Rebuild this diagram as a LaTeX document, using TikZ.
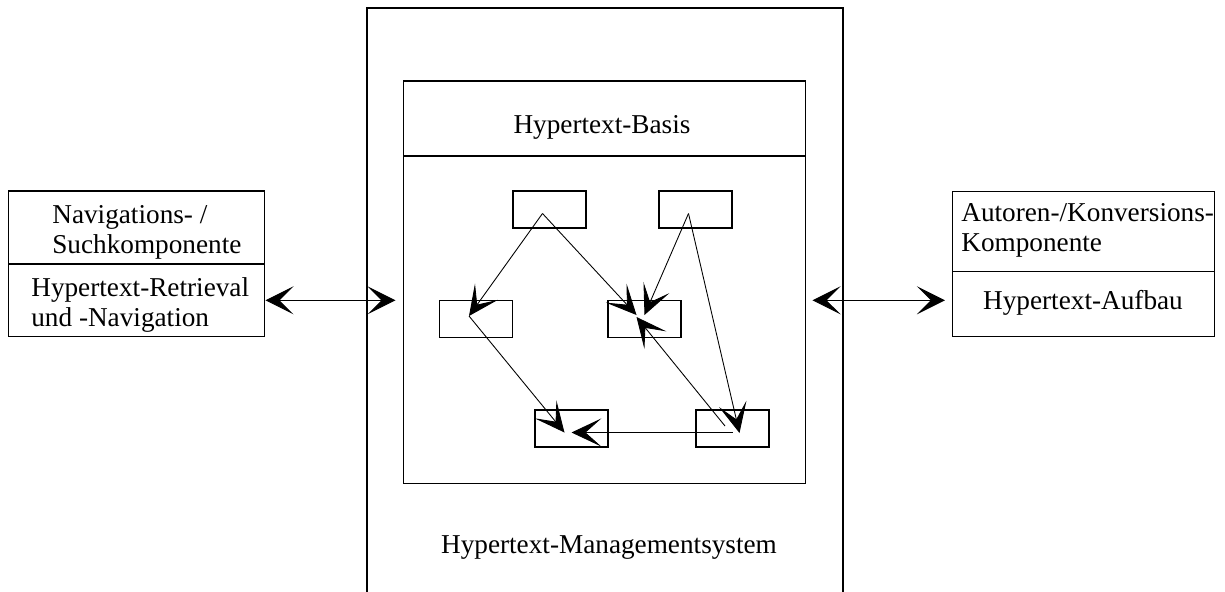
\documentclass[tikz,border=0pt]{standalone}
\usepackage{fontspec}
\setmainfont{Liberation Serif}
\usetikzlibrary{arrows.meta,calc}
\tikzset{
  part/.style={draw, line width=0.6pt, inner sep=0pt},
  smallbox/.style={part, minimum width=1.46cm, minimum height=0.74cm},
  label/.style={inner sep=0pt, font=\fontsize{15.5}{17}\selectfont},
  link/.style={line width=0.5pt, -{Stealth[length=17pt,width=16pt,inset=9pt]}},
  dbl/.style={line width=0.6pt, {Stealth[length=16pt,width=16pt,inset=8pt]}-{Stealth[length=16pt,width=16pt,inset=8pt]}}
}
\begin{document}
\begin{tikzpicture}[x=0.02cm, y=-0.02cm]
        \useasboundingbox (0,0) rectangle (1225,592);
        \draw[line width=0.6pt] (367,592) -- (367,8) -- (843,8) -- (843,592);
        \node[label] (hms) at (609,548) {Hypertext-Managementsystem};
        \node[part, minimum width=8.06cm, minimum height=1.5cm] (basistop) at (604.5,118.5) {};
        \node[part, minimum width=8.06cm, minimum height=6.56cm] (basis) at (604.5,320) {};
        \node[label] (basistxt) at (602,127) {Hypertext-Basis};
        \node[smallbox] (a) at (549.5,209.5) {};
        \node[smallbox] (b) at (695.5,209.5) {};
        \node[smallbox] (c) at (476,319) {};
        \node[smallbox] (d) at (644.5,319) {};
        \node[smallbox] (e) at (571.5,428.5) {};
        \node[smallbox] (f) at (732.5,428.5) {};
        \draw[link] ($(a)+(-7,4)$) -- ($(c)+(-7,-3)$);
        \draw[link] ($(a)+(-7,4)$) -- ($(d)+(-8,-4)$);
        \draw[link] ($(b)+(-7,4)$) -- ($(d)+(0,-4)$);
        \draw[link] ($(b)+(-7,4)$) -- ($(f)+(7,4.5)$);
        \draw[link] ($(c)+(-7,-3)$) -- ($(e)+(-7,4)$);
        \draw[link] ($(f)+(-7.5,-2.5)$) -- ($(d)+(-8,-2)$);
        \draw[link] ($(f)+(0,4)$) -- ($(e)+(0,4)$);
        \node[part, minimum width=5.13cm, minimum height=1.46cm] (navtop) at (136.7,227.5) {};
        \node[part, minimum width=5.13cm, minimum height=1.45cm] (navbot) at (136.7,300.3) {};
        \node[label, anchor=west, align=left] (navtoptxt) at (52,232) {Navigations- /\\Suchkomponente};
        \node[label, anchor=west, align=left] (navbottxt) at (31,305) {Hypertext-Retrieval\\und -Navigation};
        \node[part, minimum width=5.25cm, minimum height=1.6cm] (auttop) at (1083.7,231.7) {};
        \node[part, minimum width=5.25cm, minimum height=1.3cm] (autbot) at (1083.7,304.2) {};
        \node[label, anchor=west, align=left] (auttoptxt) at (961,230) {Autoren-/Konversions-\\Komponente};
        \node[label] (autbottxt) at (1083,303) {Hypertext-Aufbau};
        \draw[dbl] (navbot.east) -- ($(navbot.east -| basis.west)+(-7,0)$);
        \draw[dbl] ($(navbot.east -| basis.east)+(6,0)$) -- ($(navbot.east -| autbot.west)+(-7,0)$);
\end{tikzpicture}
\end{document}
